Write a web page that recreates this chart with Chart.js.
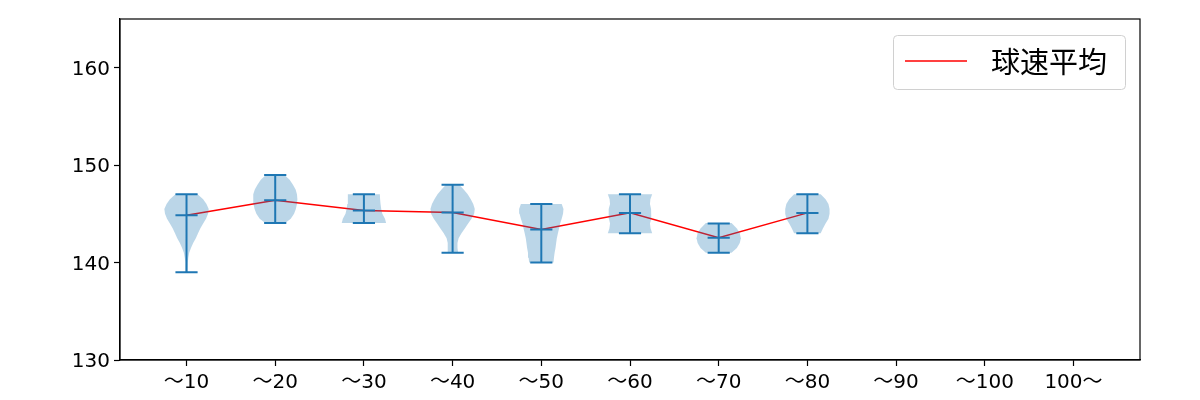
<!doctype html>
<html lang="ja">
  <head>
    <meta charset="utf-8">
    <title>球速平均 violin</title>
    <style>
      * { margin: 0; padding: 0; }
      body { background: #fff; }
      .chartBox { width: 1200px; height: 400px; }
    </style>
  </head>
  <body>
    <div class="chartBox">
      <canvas id="myChart" width="1200" height="400"></canvas>
    </div>
    <script src="https://cdn.jsdelivr.net/npm/chart.js/dist/chart.umd.min.js"></script>
    <script>
// categories (pitch count buckets)
const labels = ['～10', '～20', '～30', '～40', '～50', '～60', '～70', '～80', '～90', '～100', '100～'];

// speeds per bucket (km/h), only first 8 buckets have data
const speedMax  = [147, 149, 147, 148, 146, 147, 144, 147];
const speedMin  = [139, 144.05, 144.05, 141, 140, 143, 141, 143];
const speedMean = [144.85, 146.4, 145.35, 145.15, 143.4, 145.1, 142.55, 145.1];

// violin outlines: [speed, relative half width]
const violin10 = [[147,0.5],[146.5,0.75],[146,0.9],[145.5,1.0],[145,0.97],[144.5,0.88],[144,0.75],[143.5,0.62],[143,0.52],[142.5,0.42],[142,0.3],[141.5,0.2],[141,0.12],[140.5,0.08],[140,0.06],[139.5,0.05],[139,0.05]];
const violin20 = [[149,0.42],[148.5,0.65],[148,0.8],[147.5,0.92],[147,0.98],[146.5,1.0],[146,0.98],[145.5,0.93],[145,0.85],[144.5,0.7],[144.05,0.45]];
const violin30 = [[147,0.72],[146.5,0.73],[146,0.75],[145.5,0.78],[145,0.83],[144.5,0.95],[144.05,1.0]];
const violin40 = [[148,0.3],[147.5,0.5],[147,0.68],[146.5,0.82],[146,0.93],[145.5,1.0],[145,0.97],[144.5,0.85],[144,0.7],[143.5,0.55],[143,0.4],[142.5,0.27],[142,0.22],[141.5,0.22],[141,0.25]];
const violin50 = [[146,0.92],[145.5,1.0],[145,0.98],[144.5,0.92],[144,0.85],[143.5,0.8],[143,0.75],[142.5,0.7],[142,0.67],[141.5,0.64],[141,0.6],[140.5,0.57],[140,0.55]];
const violin60 = [[147,1.0],[146.5,0.92],[146,0.9],[145.5,0.95],[145,0.97],[144.5,0.95],[144,0.9],[143.5,0.93],[143,1.0]];
const violin70 = [[144.05,0.58],[143.5,0.82],[143,0.95],[142.5,1.0],[142,0.95],[141.5,0.82],[141,0.58]];
const violin80 = [[147,0.6],[146.5,0.82],[146,0.95],[145.5,1.0],[145,1.0],[144.5,0.95],[144,0.82],[143.5,0.7],[143,0.6]];
const violins = [violin10, violin20, violin30, violin40, violin50, violin60, violin70, violin80];

const yTicks = [130, 140, 150, 160];

const BLUE = '#1f77b4';
const HALF = 0.25;   // max half width of a violin (x units)
const CAP = 0.125;   // half width of caps

const fontFamily = '"DejaVu Sans", "Noto Sans CJK JP", sans-serif';
const cjkFamily = '"Noto Sans CJK JP", sans-serif';

// build violin polygons
const violinSets = violins.map((v, i) => {
  const x = i + 1;
  const right = v.map(p => ({x: x + HALF * p[1], y: p[0]}));
  const left = v.slice().reverse().map(p => ({x: x - HALF * p[1], y: p[0]}));
  return {
    label: 'violin' + i,
    data: right.concat(left),
    borderWidth: 0,
    borderColor: 'rgba(0,0,0,0)',
    backgroundColor: 'rgba(31, 119, 180, 0.3)',
    fill: 'shape',
    pointRadius: 0,
    tension: 0
  };
});

// whiskers, caps and mean bars
const whisker = [];
speedMax.forEach((mx, i) => {
  const x = i + 1;
  const mn = speedMin[i];
  const me = speedMean[i];
  whisker.push({x: x, y: mn}, {x: x, y: mx}, {x: x, y: null});
  whisker.push({x: x - CAP, y: mx}, {x: x + CAP, y: mx}, {x: x, y: null});
  whisker.push({x: x - CAP, y: mn}, {x: x + CAP, y: mn}, {x: x, y: null});
  whisker.push({x: x - CAP, y: me}, {x: x + CAP, y: me}, {x: x, y: null});
});

const meanLine = speedMean.map((m, i) => ({x: i + 1, y: m}));

// draws the box round the plot and the legend
const framePlugin = {
  id: 'frame',
  afterDatasetsDraw(chart) {
    const {ctx, chartArea: a} = chart;
    ctx.save();
    ctx.strokeStyle = '#000';
    ctx.lineWidth = 1.2;
    ctx.strokeRect(a.left, a.top, a.right - a.left, a.bottom - a.top);

    // legend
    const w = 232, h = 54;
    const lx = a.right - 15 - w, ly = a.top + 16;
    ctx.beginPath();
    ctx.roundRect(lx + 0.5, ly + 0.5, w, h, 4);
    ctx.fillStyle = 'rgba(255,255,255,0.8)';
    ctx.fill();
    ctx.strokeStyle = '#d0d0d0';
    ctx.lineWidth = 1;
    ctx.stroke();
    ctx.beginPath();
    ctx.moveTo(lx + 12, ly + 26);
    ctx.lineTo(lx + 74, ly + 26);
    ctx.strokeStyle = '#ff0000';
    ctx.lineWidth = 1.5;
    ctx.stroke();
    ctx.fillStyle = '#000';
    ctx.font = '29px ' + cjkFamily;
    ctx.textBaseline = 'middle';
    ctx.fillText('球速平均', lx + 98, ly + 27);
    ctx.restore();
  }
};

const data = {
  datasets: violinSets.concat([
    {
      label: 'whisker',
      data: whisker,
      borderColor: BLUE,
      borderWidth: 2,
      pointRadius: 0,
      spanGaps: false,
      fill: false
    },
    {
      label: '球速平均',
      data: meanLine,
      borderColor: '#ff0000',
      borderWidth: 1.5,
      pointRadius: 0,
      fill: false,
      tension: 0
    }
  ])
};

const config = {
  type: 'line',
  data,
  options: {
    responsive: false,
    animation: false,
    layout: { padding: { left: 0, right: 60, top: 19, bottom: 0 } },
    plugins: {
      legend: { display: false },
      tooltip: { enabled: false }
    },
    scales: {
      x: {
        type: 'linear',
        min: 0.25,
        max: 11.75,
        afterBuildTicks: s => { s.ticks = labels.map((_, i) => ({value: i + 1})); },
        afterFit: s => { s.height = 40; },
        ticks: {
          callback: v => labels[v - 1],
          color: '#000',
          font: { family: fontFamily, size: 20 },
          padding: 5,
          maxRotation: 0,
          autoSkip: false
        },
        grid: { drawOnChartArea: false, tickLength: 6, color: '#000', tickWidth: 1.2 },
        border: { display: true, color: '#000', width: 1.2 }
      },
      y: {
        min: 130,
        max: 165,
        afterBuildTicks: s => { s.ticks = yTicks.map(v => ({value: v})); },
        afterFit: s => { s.width = 120; },
        ticks: {
          color: '#000',
          font: { family: fontFamily, size: 20 },
          padding: 4,
          labelOffset: 2
        },
        grid: { drawOnChartArea: false, tickLength: 6, color: '#000', tickWidth: 1.2 },
        border: { display: true, color: '#000', width: 1.2 }
      }
    }
  },
  plugins: [framePlugin]
};

const myChart = new Chart(document.getElementById('myChart'), config);
    </script>
  </body>
</html>
